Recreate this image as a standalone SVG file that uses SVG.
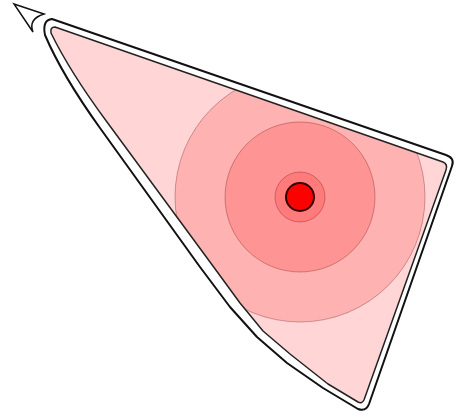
<svg xmlns="http://www.w3.org/2000/svg" width="459" height="418" viewBox="0 0 459 418">
<style>
.ring{fill:#ff0000;fill-opacity:0.165;stroke:#600000;stroke-opacity:0.3;stroke-width:1}
</style>
<defs>
<clipPath id="innerClip">
<path d="M55,27 L443,162 Q448,164 446,170 L364,400 Q362,404 358,402 L328,384 L290,354 L263,331 L240,303 L210,262 L107,122 Q70,72 51,33 Q50,27 55,27 Z"/>
</clipPath>
</defs>
<rect width="459" height="418" fill="#ffffff"/>
<g id="arrow">
<path d="M14,4 L44,14 Q28,19 33,32 Z" fill="#ffffff" stroke="#111" stroke-width="1.5" stroke-linejoin="miter"/>
</g>
<g id="outer">
<path d="M52,19 L446,155 Q455,158 452,166 L369,404 Q366,412 358,409 L323,388 L287,363 L257,337 L230,307 L200,267 L100,128 Q62,75 45,35 Q42,20 52,19 Z" fill="#ffffff" stroke="#111" stroke-width="2" stroke-linejoin="round"/>
</g>
<g id="region">
<path d="M55,27 L443,162 Q448,164 446,170 L364,400 Q362,404 358,402 L328,384 L290,354 L263,331 L240,303 L210,262 L107,122 Q70,72 51,33 Q50,27 55,27 Z" fill="#ff0000" fill-opacity="0.165" stroke="none"/>
</g>
<g id="rings" clip-path="url(#innerClip)">
<circle class="ring" cx="300" cy="197" r="125"/>
<circle class="ring" cx="300" cy="197" r="75"/>
<circle class="ring" cx="300" cy="197" r="25"/>
</g>
<g id="region-outline">
<path d="M55,27 L443,162 Q448,164 446,170 L364,400 Q362,404 358,402 L328,384 L290,354 L263,331 L240,303 L210,262 L107,122 Q70,72 51,33 Q50,27 55,27 Z" fill="none" stroke="#222" stroke-width="1.5" stroke-linejoin="round"/>
</g>
<g id="center">
<circle cx="300" cy="197" r="14" fill="#ff0000" stroke="#330000" stroke-width="2"/>
</g>
</svg>
